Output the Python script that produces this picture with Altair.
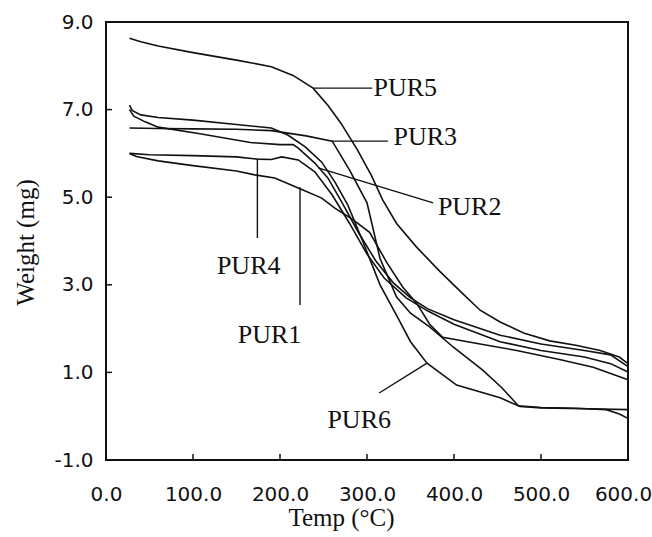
import altair as alt
import pandas as pd

# ---- data (Temp in °C, Weight in mg) ----
temp_ticks = [0, 100, 200, 300, 400, 500, 600]
weight_ticks = [-1, 1, 3, 5, 7, 9]
inner_temp_ticks = [100, 200, 300, 400, 500]
inner_weight_ticks = [1, 3, 5, 7]

pur5_T = [27, 40, 60, 100, 150, 190, 215, 238, 255, 270, 289, 305, 318, 334, 357, 384, 410, 430, 453, 480, 510, 540, 568, 590, 600]
pur5_W = [8.63, 8.55, 8.45, 8.3, 8.13, 7.98, 7.78, 7.49, 7.1, 6.69, 6.08, 5.5, 4.94, 4.4, 3.86, 3.3, 2.8, 2.42, 2.15, 1.9, 1.72, 1.62, 1.5, 1.35, 1.2]

pur6_T = [27, 30, 40, 60, 100, 150, 190, 209, 229, 248, 263, 278, 295, 315, 334, 350, 369, 403, 453, 476, 500, 550, 600]
pur6_W = [7.1, 6.98, 6.88, 6.82, 6.76, 6.66, 6.58, 6.42, 6.15, 5.8, 5.35, 4.82, 4.0, 3.0, 2.3, 1.7, 1.21, 0.71, 0.42, 0.22, 0.19, 0.17, 0.15]

pur3_T = [27, 60, 100, 150, 190, 230, 260, 280, 300, 315, 334, 350, 372, 399, 433, 455, 474, 500, 540, 575, 590, 600]
pur3_W = [6.58, 6.57, 6.56, 6.55, 6.52, 6.4, 6.28, 5.62, 4.87, 3.6, 2.72, 2.35, 2.04, 1.58, 1.05, 0.65, 0.24, 0.2, 0.18, 0.15, 0.05, -0.05]

pur2_T = [27, 32, 45, 60, 108, 166, 200, 215, 221, 240, 255, 271, 290, 310, 330, 350, 370, 400, 453, 500, 550, 580, 600]
pur2_W = [7.0, 6.85, 6.72, 6.6, 6.45, 6.25, 6.2, 6.2, 6.12, 5.78, 5.44, 4.89, 4.2, 3.55, 3.05, 2.7, 2.45, 2.2, 1.85, 1.65, 1.5, 1.4, 1.13]

pur4_T = [27, 50, 100, 150, 174, 190, 202, 221, 240, 260, 280, 300, 320, 345, 370, 400, 453, 500, 550, 580, 600]
pur4_W = [6.0, 5.97, 5.95, 5.92, 5.87, 5.86, 5.92, 5.85, 5.58, 5.05, 4.4, 3.7, 3.15, 2.7, 2.4, 2.1, 1.7, 1.5, 1.35, 1.2, 1.01]

pur1_T = [27, 35, 60, 100, 150, 171, 194, 221, 248, 263, 283, 303, 323, 341, 357, 372, 387, 430, 472, 520, 560, 600]
pur1_W = [6.0, 5.93, 5.83, 5.72, 5.6, 5.51, 5.44, 5.21, 4.98, 4.75, 4.5, 4.2, 3.5, 2.95, 2.58, 2.1, 1.8, 1.65, 1.5, 1.3, 1.12, 0.83]

# curve labels and their leader lines
label_names = ["PUR5", "PUR3", "PUR2", "PUR4", "PUR1", "PUR6"]
label_T = [344, 367, 418, 164, 188, 291]
label_W = [7.49, 6.37, 4.78, 3.43, 1.85, -0.08]
leader_T1 = [238, 260, 244, 174, 223, 369]
leader_W1 = [7.49, 6.28, 5.67, 5.86, 5.23, 1.21]
leader_T2 = [306, 324, 376, 174, 223, 314]
leader_W2 = [7.49, 6.28, 4.87, 4.07, 2.54, 0.53]

series = {
    "PUR5": (pur5_T, pur5_W),
    "PUR6": (pur6_T, pur6_W),
    "PUR3": (pur3_T, pur3_W),
    "PUR2": (pur2_T, pur2_W),
    "PUR4": (pur4_T, pur4_W),
    "PUR1": (pur1_T, pur1_W),
}
rows = []
for name, (ts, ws) in series.items():
    for i, (t, w) in enumerate(zip(ts, ws)):
        rows.append({"series": name, "T": t, "W": w, "i": i})
curves = pd.DataFrame(rows)

labels = pd.DataFrame({"name": label_names, "T": label_T, "W": label_W})
leaders = pd.DataFrame({"T": leader_T1, "W": leader_W1, "T2": leader_T2, "W2": leader_W2})
xt = pd.DataFrame({"T": inner_temp_ticks})
yt = pd.DataFrame({"W": inner_weight_ticks})

W_PX, H_PX = 522, 438
xscale = alt.Scale(domain=[0, 600], nice=False, zero=False)
yscale = alt.Scale(domain=[-1, 9], nice=False, zero=False)

num_label = "datum.value < 0 ? '-' + format(-datum.value, '.1f') : format(datum.value, '.1f')"

x_axis = alt.Axis(
    values=temp_ticks, labelExpr=num_label, ticks=False, domain=False, grid=False,
    labelFont="DejaVu Sans", labelFontSize=20, labelColor="#111", labelPadding=24,
    labelOverlap=False, labelFlush=False,
    labelOffset={"condition": {"test": "datum.value == 600", "value": -5}, "value": 0},
    title="Temp (°C)", titleFont="Liberation Serif", titleFontSize=25,
    titleFontWeight="normal", titleColor="#111",
    titleX=235, titleY=57, titleAlign="center", titleBaseline="middle",
)
y_axis = alt.Axis(
    values=weight_ticks, labelExpr=num_label, ticks=False, domain=False, grid=False,
    labelFont="DejaVu Sans", labelFontSize=20, labelColor="#111", labelPadding=13,
    labelOverlap=False, labelFlush=False,
    title="Weight (mg)", titleFont="Liberation Serif", titleFontSize=25,
    titleFontWeight="normal", titleColor="#111",
    titleX=-81, titleY=220, titleAngle=-90, titleAlign="center", titleBaseline="middle",
)

lines = alt.Chart(curves).mark_line(color="#111", strokeWidth=1.6).encode(
    x=alt.X("T:Q", scale=xscale, axis=x_axis),
    y=alt.Y("W:Q", scale=yscale, axis=y_axis),
    detail="series:N",
    order="i:Q",
)

leader_marks = alt.Chart(leaders).mark_rule(color="#111", strokeWidth=1.4).encode(
    x=alt.X("T:Q", scale=xscale), y=alt.Y("W:Q", scale=yscale),
    x2="T2:Q", y2="W2:Q",
)

label_marks = alt.Chart(labels).mark_text(
    font="Liberation Serif", fontSize=26, color="#111", align="center", baseline="middle"
).encode(
    x=alt.X("T:Q", scale=xscale), y=alt.Y("W:Q", scale=yscale), text="name:N"
)

xticks = alt.Chart(xt).mark_rule(color="#111", strokeWidth=1.5).encode(
    x=alt.X("T:Q", scale=xscale), y=alt.value(H_PX), y2=alt.value(H_PX - 6)
)
yticks = alt.Chart(yt).mark_rule(color="#111", strokeWidth=1.5).encode(
    y=alt.Y("W:Q", scale=yscale), x=alt.value(0), x2=alt.value(6)
)

chart = alt.layer(lines, leader_marks, label_marks, xticks, yticks).properties(
    width=W_PX, height=H_PX,
    autosize=alt.AutoSizeParams(type="none"),
    padding={"left": 106, "top": 22, "right": 24, "bottom": 77},
    background="white",
).configure_view(stroke="#111", strokeWidth=2)

chart.save("out.html", embed_options={"renderer": "svg", "actions": False})
